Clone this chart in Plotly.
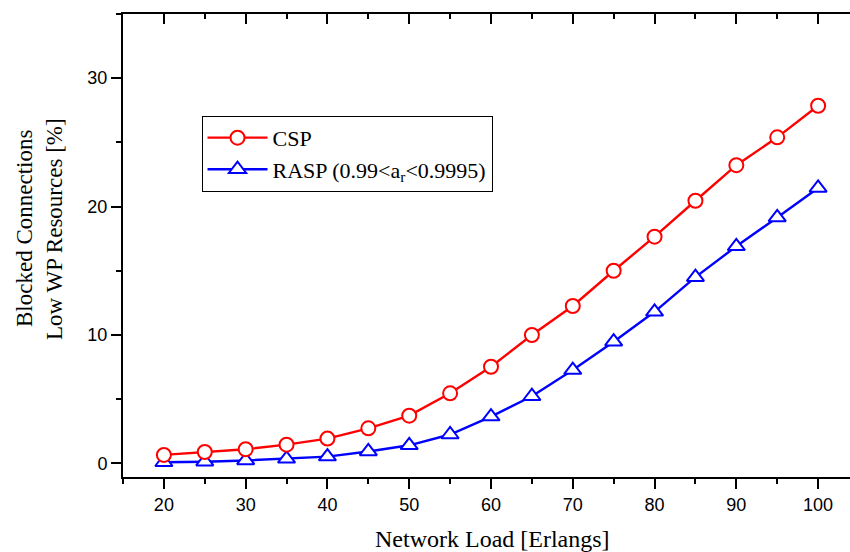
import plotly.graph_objects as go

load = [20, 25, 30, 35, 40, 45, 50, 55, 60, 65, 70, 75, 80, 85, 90, 95, 100]
csp = [0.65, 0.88, 1.09, 1.45, 1.92, 2.72, 3.71, 5.45, 7.52, 9.99, 12.25, 15.0, 17.65, 20.45, 23.22, 25.39, 27.85]
rasp = [0.08, 0.12, 0.22, 0.35, 0.52, 0.92, 1.40, 2.24, 3.64, 5.22, 7.26, 9.47, 11.8, 14.5, 16.9, 19.15, 21.45]

x_ticks = [20, 30, 40, 50, 60, 70, 80, 90, 100]
y_ticks = [0, 10, 20, 30]

series_names = ["CSP", "RASP (0.99&lt;a<sub>r</sub>&lt;0.9995)"]

fig = go.Figure()

fig.add_trace(go.Scatter(
    x=load, y=rasp, name=series_names[1], mode="lines+markers",
    line=dict(color="#0000FF", width=2.4),
    marker=dict(symbol="triangle-up", size=15, color="white",
                line=dict(color="#0000FF", width=2)),
    legendrank=2,
))
fig.add_trace(go.Scatter(
    x=load, y=csp, name=series_names[0], mode="lines+markers",
    line=dict(color="#FF0000", width=2.4),
    marker=dict(symbol="circle", size=14, color="white",
                line=dict(color="#FF0000", width=2)),
    legendrank=1,
))
# invisible trace to anchor top axis
fig.add_trace(go.Scatter(x=[load[0]], y=[csp[0]], xaxis="x2", mode="markers",
                         marker=dict(opacity=0), showlegend=False, hoverinfo="skip"))

xr = [15, 103.9]
yr = [-1.07, 35]
tickfont = dict(family="Liberation Sans, Arial, sans-serif", size=18, color="black")

fig.update_layout(
    width=850, height=552,
    margin=dict(l=123, r=0, t=14, b=75),
    paper_bgcolor="white", plot_bgcolor="white",
    showlegend=True,
    legend=dict(
        x=0.108, y=0.78, xanchor="left", yanchor="top",
        bgcolor="white", bordercolor="black", borderwidth=1,
        font=dict(family="Liberation Serif, Times New Roman, serif", size=22, color="black"),
        itemwidth=60, tracegroupgap=2,
    ),
    xaxis=dict(
        range=xr, tickvals=x_ticks, ticks="outside", ticklen=10, tickwidth=2,
        tickcolor="black", showline=True, linecolor="black", linewidth=2,
        showgrid=False, zeroline=False, tickfont=tickfont,
        minor=dict(dtick=5, tick0=0, ticks="outside", ticklen=5, tickwidth=2, tickcolor="black", showgrid=False),
    ),
    xaxis2=dict(
        range=xr, overlaying="x", side="top", tickvals=x_ticks, ticks="inside",
        ticklen=10, tickwidth=2, tickcolor="black", showline=True, linecolor="black",
        linewidth=2, showgrid=False, zeroline=False, showticklabels=False,
        minor=dict(dtick=5, tick0=0, ticks="inside", ticklen=5, tickwidth=2, tickcolor="black", showgrid=False),
    ),
    yaxis=dict(
        range=yr, tickvals=y_ticks, ticks="outside", ticklen=10, tickwidth=2,
        tickcolor="black", showline=True, linecolor="black", linewidth=2,
        showgrid=False, zeroline=False, tickfont=tickfont,
        minor=dict(dtick=5, tick0=0, ticks="outside", ticklen=5, tickwidth=2, tickcolor="black", showgrid=False),
    ),
)

titlefont = dict(family="Liberation Serif, Times New Roman, serif", size=23, color="black")
fig.add_annotation(text="Network Load [Erlangs]", xref="paper", yref="paper",
                   x=0.5076, y=-0.134, xanchor="center", yanchor="middle",
                   showarrow=False, font=dict(family="Liberation Serif, Times New Roman, serif", size=24, color="black"))
fig.add_annotation(text="Blocked Connections", xref="paper", yref="paper",
                   x=(24 - 123) / 727, y=0.5356, xanchor="center", yanchor="middle",
                   textangle=-90, showarrow=False, font=titlefont)
fig.add_annotation(text="Low WP Resources [%]", xref="paper", yref="paper",
                   x=(54 - 123) / 727, y=0.5356, xanchor="center", yanchor="middle",
                   textangle=-90, showarrow=False, font=titlefont)

fig.write_html("out.html")
